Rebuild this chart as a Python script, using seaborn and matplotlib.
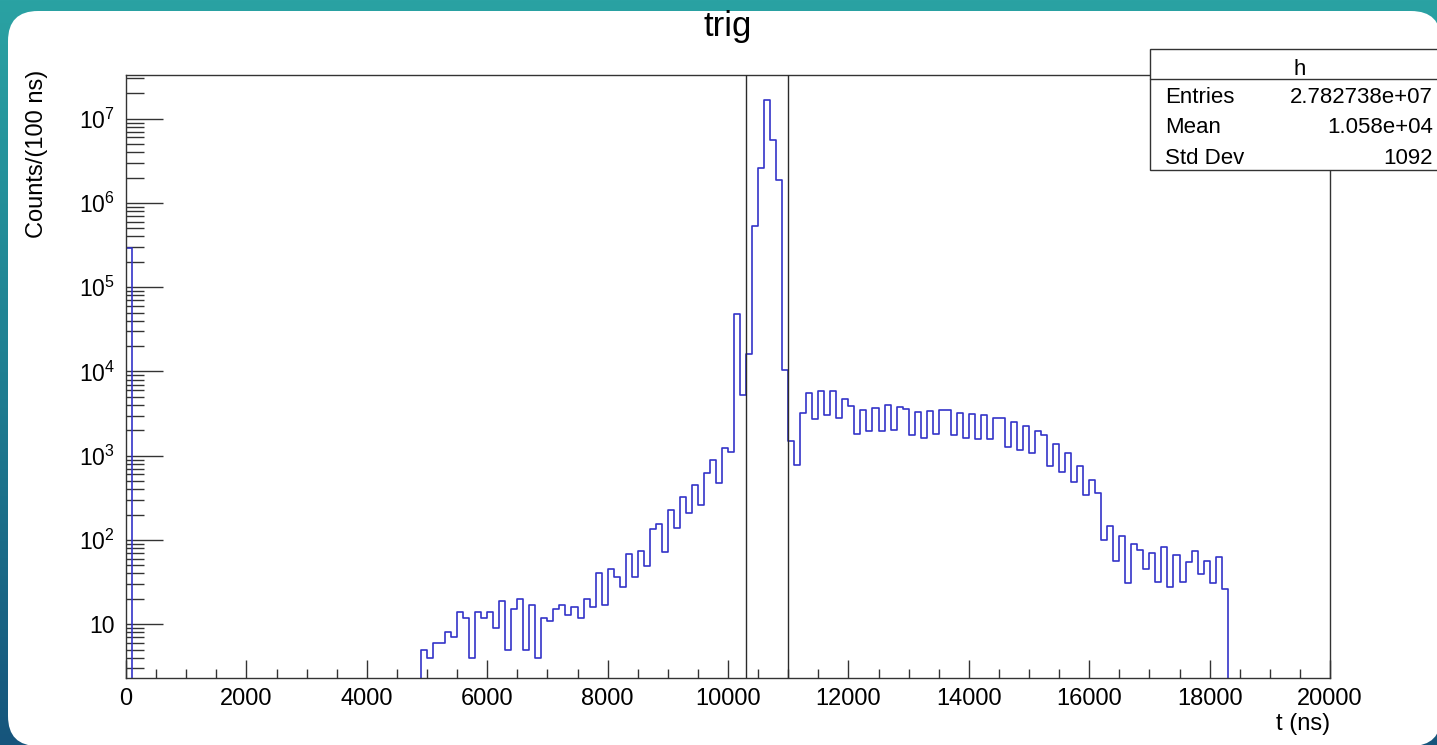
import numpy as np
import pandas as pd
import matplotlib
matplotlib.use("Agg")
import matplotlib.pyplot as plt
import matplotlib.ticker as mticker
from matplotlib.patches import FancyBboxPatch, Rectangle
from matplotlib.colors import LinearSegmentedColormap
import seaborn as sns

# ---------------- data ----------------
bin_width = 100
x_range = (0, 20000)
first_bin_counts = [290000]          # bin 0-100 ns
tail_start_ns = 4900                 # first filled bin of the main distribution
tail_counts = [
    5, 4, 6, 6, 8, 7, 14, 12, 4, 14,            # 4900-5800
    12, 14, 9, 19, 5, 15, 20, 5, 17, 4,         # 5900-6800
    12, 11, 15, 17, 13, 16, 12, 20, 16, 40,     # 6900-7800
    17, 45, 36, 28, 68, 36, 74, 49, 135, 156,   # 7900-8800
    71, 225, 139, 324, 209, 454, 258, 631, 881, 474,   # 8900-9800
    1220, 1106, 48500, 5250, 16300, 531000, 2590000, 16800000, 5620000, 1880000,  # 9900-10800
    10500, 1483, 784, 3230, 5550, 2740, 5860, 3070, 5860, 2830,   # 10900-11800
    4670, 3855, 1829, 3459, 1945, 3680, 1945, 4035, 2000, 3785,   # 11900-12800
    3580, 1746, 3300, 1640, 3395, 1795, 3459, 3459, 1746, 3245,   # 12900-13800
    1622, 3155, 1596, 3070, 1567, 2805, 2805, 1268, 2512, 1181,   # 13900-14800
    2232, 1089, 1980, 1760, 755, 1380, 636, 1077, 490, 750,       # 14900-15800
    339, 520, 361, 101, 146, 56, 111, 31, 89, 75,                 # 15900-16800
    45, 70, 32, 82, 28, 66, 32, 55, 74, 39,                       # 16900-17800
    56, 31, 63, 26,                                               # 17900-18200
]
cut_lines_ns = [10300, 11000]
title_text = "trig"
x_title = "t (ns)"
y_title = "Counts/(100 ns)"
y_decades = [1e1, 1e2, 1e3, 1e4, 1e5, 1e6, 1e7]
y_tick_labels = ["10"] + [r"$\mathregular{10^{%d}}$" % k for k in range(2, 8)]
stats_name = "h"
stats_labels = ["Entries", "Mean", "Std Dev"]
stats_values = ["2.782738e+07", "1.058e+04", "1092"]

# ---------------- build table ----------------
edges = np.arange(x_range[0], x_range[1] + bin_width, bin_width)
centers = edges[:-1] + bin_width / 2
counts = np.zeros(len(centers))
counts[0] = first_bin_counts[0]
i0 = tail_start_ns // bin_width
counts[i0:i0 + len(tail_counts)] = tail_counts
df = pd.DataFrame({"t": centers, "n": counts})

# ---------------- style ----------------
sns.set_style("ticks")
plt.rcParams["font.family"] = ["Liberation Sans", "DejaVu Sans"]
plt.rcParams["mathtext.fontset"] = "custom"
plt.rcParams["mathtext.rm"] = "Liberation Sans"
plt.rcParams["mathtext.it"] = "Liberation Sans:italic"
plt.rcParams["mathtext.bf"] = "Liberation Sans:bold"
plt.rcParams["text.color"] = "black"
plt.rcParams["xtick.labelcolor"] = "black"
plt.rcParams["ytick.labelcolor"] = "black"

W, H, DPI = 1437, 745, 100
fig = plt.figure(figsize=(W / DPI, H / DPI), dpi=DPI)

# background: teal gradient with white rounded panel
bg = fig.add_axes([0, 0, 1, 1], zorder=-10)
bg.set_xlim(0, W)
bg.set_ylim(H, 0)
bg.axis("off")
cmap = LinearSegmentedColormap.from_list("bgc", ["#2aa2a3", "#1f7f92", "#16557c"])
grad = np.linspace(0, 1, 256)[:, None] * np.ones((1, 4))
bg.imshow(grad, extent=[0, W, H, 0], aspect="auto", cmap=cmap, zorder=0)
bg.add_patch(FancyBboxPatch((8, 11), 1441 - 8, 746 - 11,
                            boxstyle="round,pad=0,rounding_size=30",
                            fc="white", ec="none", zorder=1))

# main axes
L, R, T, B = 126, 1330, 75, 678
ax = fig.add_axes([L / W, 1 - B / H, (R - L) / W, (B - T) / H])
ax.set_facecolor("white")
sns.histplot(data=df, x="t", weights="n", binwidth=bin_width, binrange=x_range,
             element="step", fill=False, color="#3434c8", linewidth=1.2, ax=ax)
ax.set_yscale("log")
ax.set_xlim(*x_range)
ax.set_ylim(2.3, 3.3e7)
ax.set_xlabel("")
ax.set_ylabel("")

for xv in cut_lines_ns:
    ax.axvline(xv, color="#2a2a2a", lw=1.0, zorder=3)

for sp in ax.spines.values():
    sp.set_color("#333333")
    sp.set_linewidth(1.0)

ax.xaxis.set_major_locator(mticker.MultipleLocator(2000))
ax.xaxis.set_minor_locator(mticker.MultipleLocator(500))
ax.xaxis.set_major_formatter(mticker.FormatStrFormatter("%d"))
ax.yaxis.set_major_locator(mticker.FixedLocator(y_decades))
ax.yaxis.set_major_formatter(mticker.FixedFormatter(y_tick_labels))
ax.yaxis.set_minor_locator(mticker.LogLocator(base=10, subs=np.arange(2, 10), numticks=50))
ax.yaxis.set_minor_formatter(mticker.NullFormatter())

ax.tick_params(axis="x", which="major", direction="in", length=12.7, width=1,
               color="#333333", labelcolor="black", labelsize=17, pad=7, top=False)
ax.tick_params(axis="x", which="minor", direction="in", length=6.5, width=1,
               color="#333333", top=False)
ax.tick_params(axis="y", which="major", direction="in", length=26.5, width=1,
               color="#333333", labelcolor="black", labelsize=16.5, pad=8, right=False)
ax.tick_params(axis="y", which="minor", direction="in", length=13, width=1,
               color="#333333", right=False)

# titles
fig.text(728 / W, 1 - 36 / H, title_text, ha="center", va="baseline", fontsize=25, color="black")
fig.text(R / W, 1 - 724 / H, x_title, ha="right", va="center", fontsize=17, color="black")
fig.text(37 / W, 1 - 70 / H, y_title, ha="center", va="top", rotation=90, fontsize=17, color="black")

# stats box overlay
ov = fig.add_axes([0, 0, 1, 1], zorder=10)
ov.set_xlim(0, W)
ov.set_ylim(H, 0)
ov.axis("off")
ov.patch.set_alpha(0)
ov.add_patch(Rectangle((1150, 49), 310, 121, fc="white", ec="#333333", lw=1.0))
ov.plot([1150, 1460], [79, 79], color="#333333", lw=1.0)
ov.text(1300, 75, stats_name, ha="center", va="baseline", fontsize=16, color="black")
for lab, val, yb in zip(stats_labels, stats_values, [103, 133, 164]):
    ov.text(1165, yb, lab, ha="left", va="baseline", fontsize=16, color="black")
    ov.text(1433, yb, val, ha="right", va="baseline", fontsize=16, color="black")

fig.savefig("out.png", dpi=DPI)
